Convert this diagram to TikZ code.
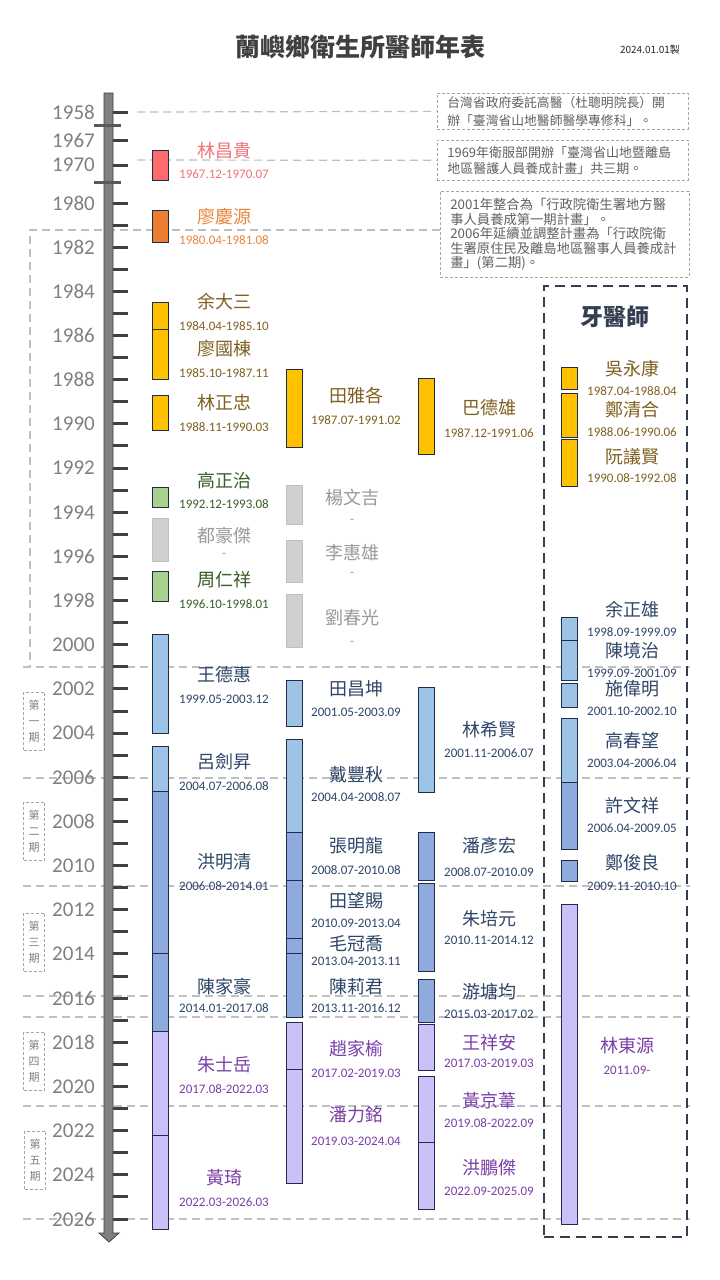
\documentclass[tikz,border=0pt]{standalone}
\usepackage{fontspec}
\setmainfont{Carlito}
\newfontfamily\cjk{Noto Sans CJK TC}
\definecolor{fRed}{HTML}{FF6B6B}\definecolor{tRed}{HTML}{F07378}
\definecolor{fOra}{HTML}{ED7D31}\definecolor{tOra}{HTML}{E8853D}
\definecolor{fGold}{HTML}{FFC000}\definecolor{tGold}{HTML}{806020}
\definecolor{fGrn}{HTML}{A9D18E}\definecolor{tGrn}{HTML}{3B5E27}
\definecolor{fGry}{HTML}{D0D0D0}\definecolor{tGry}{HTML}{9A9A9A}
\definecolor{fLb}{HTML}{9DC3E6}\definecolor{tBlu}{HTML}{2E4668}
\definecolor{fMb}{HTML}{8FAADC}
\definecolor{fPur}{HTML}{CBC0F7}\definecolor{tPur}{HTML}{7A3FA8}
\definecolor{barline}{HTML}{1F2C4C}
\definecolor{guidegray}{HTML}{BFBFBF}
\definecolor{dent}{HTML}{333F50}
\newcommand\tbar[5]{\node[bx, fill=#5, minimum height={#4-#3}] (#1) at ({#2+8},{(#3+#4)/2}) {};}
\newcommand\tlab[7]{\node[nm,text=#5] (#1n) at (#2,#3) {#6};\node[dt,text=#5] (#1d) at (#2,#4) {#7};}
\begin{document}
\begin{tikzpicture}[x=1pt,y=-1pt,
  guide/.style={draw=guidegray, line width=1.2pt, dash pattern=on 8pt off 5pt},
  bx/.style={draw=barline, line width=0.8pt, inner sep=0pt, outer sep=0pt, minimum width=16pt},
  gbx/.style={bx, draw=guidegray},
  nm/.style={font=\cjk\fontsize{18}{20}\selectfont, inner sep=0pt},
  dt/.style={font=\fontsize{13}{15}\selectfont, inner sep=0pt},
  yr/.style={font=\fontsize{21}{24}\selectfont, text=black!50, anchor=east, inner sep=0pt},
  tick/.style={draw=black!75, line width=3pt},
  brk/.style={draw=black!65, line width=3pt},
  note/.style={draw=black!35, dash pattern=on 3pt off 2pt, line width=0.7pt, anchor=north west, align=left, inner xsep=10pt, inner ysep=0pt, text=black!62},
  period/.style={draw=black!35, dash pattern=on 3pt off 2pt, line width=0.7pt, align=center, inner sep=0pt, minimum width=21pt, minimum height=58pt, text=black!50, font=\cjk\fontsize{11}{16}\selectfont}]
\useasboundingbox (0,0) rectangle (720,1280);
\fill[white] (0,0) rectangle (720,1280);

% title
\node[font=\cjk\bfseries\fontsize{25}{28}\selectfont, text=black!75] (title) at (360,47) {蘭嶼鄉衛生所醫師年表};
\node[font=\cjk\fontsize{10}{12}\selectfont, text=black!85] (made) at (650,50) {2024.01.01製};

% notes
\node[note, text width=231pt, minimum height=36pt, font=\cjk\fontsize{12.8}{18}\selectfont] (note1) at (437,93) {台灣省政府委託高醫（杜聰明院長）開\\辦「臺灣省山地醫師醫學專修科」。};
\node[note, text width=231pt, minimum height=40pt, font=\cjk\fontsize{13}{16.5}\selectfont] (note2) at (437,140) {1969年衛服部開辦「臺灣省山地暨離島\\地區醫護人員養成計畫」共三期。};
\node[note, text width=229pt, minimum height=86pt, font=\cjk\fontsize{13.3}{14.6}\selectfont] (note3) at (440,191) {2001年整合為「行政院衛生署地方醫\\事人員養成第一期計畫」。\\2006年延續並調整計畫為「行政院衛\\生署原住民及離島地區醫事人員養成計\\畫」(第二期)。};

% guide lines
\coordinate (g1) at (137,112);
\coordinate (g2) at (137,160);
\coordinate (g3) at (30,230);
\coordinate (g3b) at (30,667);
\draw[guide] (g1) -- (note1.west);
\draw[guide] (g2) -- (note2.west);
\draw[guide] (note3.west |- g3) -- (g3) -- (g3b);
\foreach \yy in {667,778,886,996,1017,1106,1219} {
  \coordinate (gl\yy) at (23,\yy);
  \coordinate (gr\yy) at (690,\yy);
  \draw[guide] (gl\yy) -- (gr\yy);
}

% dentist box
\node[draw=dent, line width=2pt, dash pattern=on 10pt off 6pt, minimum width=143pt, minimum height=951pt, inner sep=0pt] (dentbox) at (615.5,761.5) {};
\node[font=\cjk\bfseries\fontsize{23}{26}\selectfont, text=dent] (dentlab) at (615,317) {牙醫師};

% period labels
\node[period] (p1) at (34,721) {第\\一\\期};
\node[period] (p2) at (34,831) {第\\二\\期};
\node[period] (p3) at (34,942) {第\\三\\期};
\node[period] (p4) at (34,1061) {第\\四\\期};
\node[period] (p5) at (35,1160) {第\\五\\期};

% axis
\filldraw[fill=black!50, draw=black!75, line width=0.8pt] (104,93) -- (113,93) -- (113,1233) -- (119,1233) -- (109,1242) -- (99,1233) -- (104,1233) -- cycle;
\foreach \ty in {112,140,165} \draw[tick] (113,\ty) -- (128,\ty);
\foreach \k in {0,...,46} \draw[tick] (113,{203+\k*22.087}) -- (128,{203+\k*22.087});
\draw[brk] (94,125) -- (121,125);
\draw[brk] (94,182) -- (121,182);
\node[yr] (y1958) at (95,112) {1958};
\node[yr] (y1967) at (95,140) {1967};
\node[yr] (y1970) at (95,165) {1970};
\node[yr] (y1980) at (95,203) {1980};
\foreach \yv in {1982,1984,...,2026} \node[yr] (y\yv) at (95,{203+(\yv-1980)*22.087}) {\yv};

% ---- column 1 ----
\tbar{a1}{152}{150}{180}{fRed}
\tbar{a2}{152}{210}{242}{fOra}
\tbar{a3}{152}{302}{329}{fGold}
\tbar{a4}{152}{329}{379}{fGold}
\tbar{a5}{152}{395}{430}{fGold}
\tbar{a6}{152}{487}{507}{fGrn}
\node[gbx, fill=fGry, minimum height=43pt] (a7) at (160,539.5) {};
\tbar{a8}{152}{571}{601}{fGrn}
\tbar{a9}{152}{634}{733}{fLb}
\tbar{a10}{152}{746}{791}{fLb}
\tbar{a11}{152}{791}{953}{fMb}
\tbar{a12}{152}{953}{1031}{fMb}
\tbar{a13}{152}{1031}{1135}{fPur}
\tbar{a14}{152}{1135}{1229}{fPur}
\tlab{a1}{224}{151}{174}{tRed}{林昌貴}{1967.12-1970.07}
\tlab{a2}{224}{217}{240}{tOra}{廖慶源}{1980.04-1981.08}
\tlab{a3}{224}{302}{326}{tGold}{余大三}{1984.04-1985.10}
\tlab{a4}{224}{349}{373}{tGold}{廖國棟}{1985.10-1987.11}
\tlab{a5}{224}{403}{427}{tGold}{林正忠}{1988.11-1990.03}
\tlab{a6}{224}{481}{504}{tGrn}{高正治}{1992.12-1993.08}
\tlab{a7}{224}{536}{555}{tGry}{都豪傑}{-}
\tlab{a8}{224}{580}{604}{tGrn}{周仁祥}{1996.10-1998.01}
\tlab{a9}{224}{675}{699}{tBlu}{王德惠}{1999.05-2003.12}
\tlab{a10}{224}{762}{786}{tBlu}{呂劍昇}{2004.07-2006.08}
\tlab{a11}{224}{862}{886}{tBlu}{洪明清}{2006.08-2014.01}
\tlab{a12}{224}{987}{1008}{tBlu}{陳家豪}{2014.01-2017.08}
\tlab{a13}{224}{1065}{1089}{tPur}{朱士岳}{2017.08-2022.03}
\tlab{a14}{224}{1178}{1202}{tPur}{黃琦}{2022.03-2026.03}

% ---- column 2 ----
\tbar{b1}{286}{369}{447}{fGold}
\node[gbx, fill=fGry, minimum height=39pt] (b2) at (294,504.5) {};
\node[gbx, fill=fGry, minimum height=42pt] (b3) at (294,561) {};
\node[gbx, fill=fGry, minimum height=53pt] (b4) at (294,620.5) {};
\tbar{b5}{286}{680}{726}{fLb}
\tbar{b6}{286}{739}{832}{fLb}
\tbar{b7}{286}{832}{880}{fMb}
\tbar{b8}{286}{880}{938}{fMb}
\tbar{b9}{286}{938}{953}{fMb}
\tbar{b10}{286}{953}{1017}{fMb}
\tbar{b11}{286}{1022}{1069}{fPur}
\tbar{b12}{286}{1069}{1183}{fPur}
\tlab{b1}{356}{396}{420}{tGold}{田雅各}{1987.07-1991.02}
\tlab{b2}{352}{498}{521}{tGry}{楊文吉}{-}
\tlab{b3}{352}{553}{574}{tGry}{李惠雄}{-}
\tlab{b4}{352}{618}{643}{tGry}{劉春光}{-}
\tlab{b5}{356}{689}{712}{tBlu}{田昌坤}{2001.05-2003.09}
\tlab{b6}{356}{775}{797}{tBlu}{戴豐秋}{2004.04-2008.07}
\tlab{b7}{356}{846}{870}{tBlu}{張明龍}{2008.07-2010.08}
\tlab{b8}{356}{901}{923}{tBlu}{田望賜}{2010.09-2013.04}
\tlab{b9}{356}{944}{961}{tBlu}{毛冠喬}{2013.04-2013.11}
\tlab{b10}{356}{987}{1008}{tBlu}{陳莉君}{2013.11-2016.12}
\tlab{b11}{356}{1049}{1073}{tPur}{趙家榆}{2017.02-2019.03}
\tlab{b12}{356}{1115}{1141}{tPur}{潘力銘}{2019.03-2024.04}

% ---- column 3 ----
\tbar{c1}{418}{378}{454}{fGold}
\tbar{c2}{418}{687}{792}{fLb}
\tbar{c3}{418}{832}{880}{fMb}
\tbar{c4}{418}{883}{971}{fMb}
\tbar{c5}{418}{979}{1022}{fMb}
\tbar{c6}{418}{1024}{1070}{fPur}
\tbar{c7}{418}{1076}{1142}{fPur}
\tbar{c8}{418}{1142}{1209}{fPur}
\tlab{c1}{489}{408}{433}{tGold}{巴德雄}{1987.12-1991.06}
\tlab{c2}{489}{730}{753}{tBlu}{林希賢}{2001.11-2006.07}
\tlab{c3}{489}{846}{872}{tBlu}{潘彥宏}{2008.07-2010.09}
\tlab{c4}{489}{919}{940}{tBlu}{朱培元}{2010.11-2014.12}
\tlab{c5}{489}{992}{1014}{tBlu}{游塘均}{2015.03-2017.02}
\tlab{c6}{489}{1043}{1063}{tPur}{王祥安}{2017.03-2019.03}
\tlab{c7}{489}{1101}{1123}{tPur}{黃京葦}{2019.08-2022.09}
\tlab{c8}{489}{1168}{1191}{tPur}{洪鵬傑}{2022.09-2025.09}

% ---- column 4 (dentists) ----
\tbar{d1}{561}{367}{389}{fGold}
\tbar{d2}{561}{393}{437}{fGold}
\tbar{d3}{561}{439}{486}{fGold}
\tbar{d4}{561}{617}{640}{fLb}
\tbar{d5}{561}{640}{680}{fLb}
\tbar{d6}{561}{683}{707}{fLb}
\tbar{d7}{561}{718}{782}{fLb}
\tbar{d8}{561}{782}{849}{fMb}
\tbar{d9}{561}{860}{881}{fMb}
\tbar{d10}{561}{904}{1224}{fPur}
\tlab{d1}{632}{369}{391}{tGold}{吳永康}{1987.04-1988.04}
\tlab{d2}{632}{410}{432}{tGold}{鄭清合}{1988.06-1990.06}
\tlab{d3}{632}{457}{478}{tGold}{阮議賢}{1990.08-1992.08}
\tlab{d4}{632}{610}{632}{tBlu}{余正雄}{1998.09-1999.09}
\tlab{d5}{632}{651}{673}{tBlu}{陳境治}{1999.09-2001.09}
\tlab{d6}{632}{689}{711}{tBlu}{施偉明}{2001.10-2002.10}
\tlab{d7}{632}{741}{763}{tBlu}{高春望}{2003.04-2006.04}
\tlab{d8}{632}{806}{828}{tBlu}{許文祥}{2006.04-2009.05}
\tlab{d9}{632}{863}{886}{tBlu}{鄭俊良}{2009.11-2010.10}
\tlab{d10}{627}{1046}{1070}{tPur}{林東源}{2011.09-}
\end{tikzpicture}
\end{document}
